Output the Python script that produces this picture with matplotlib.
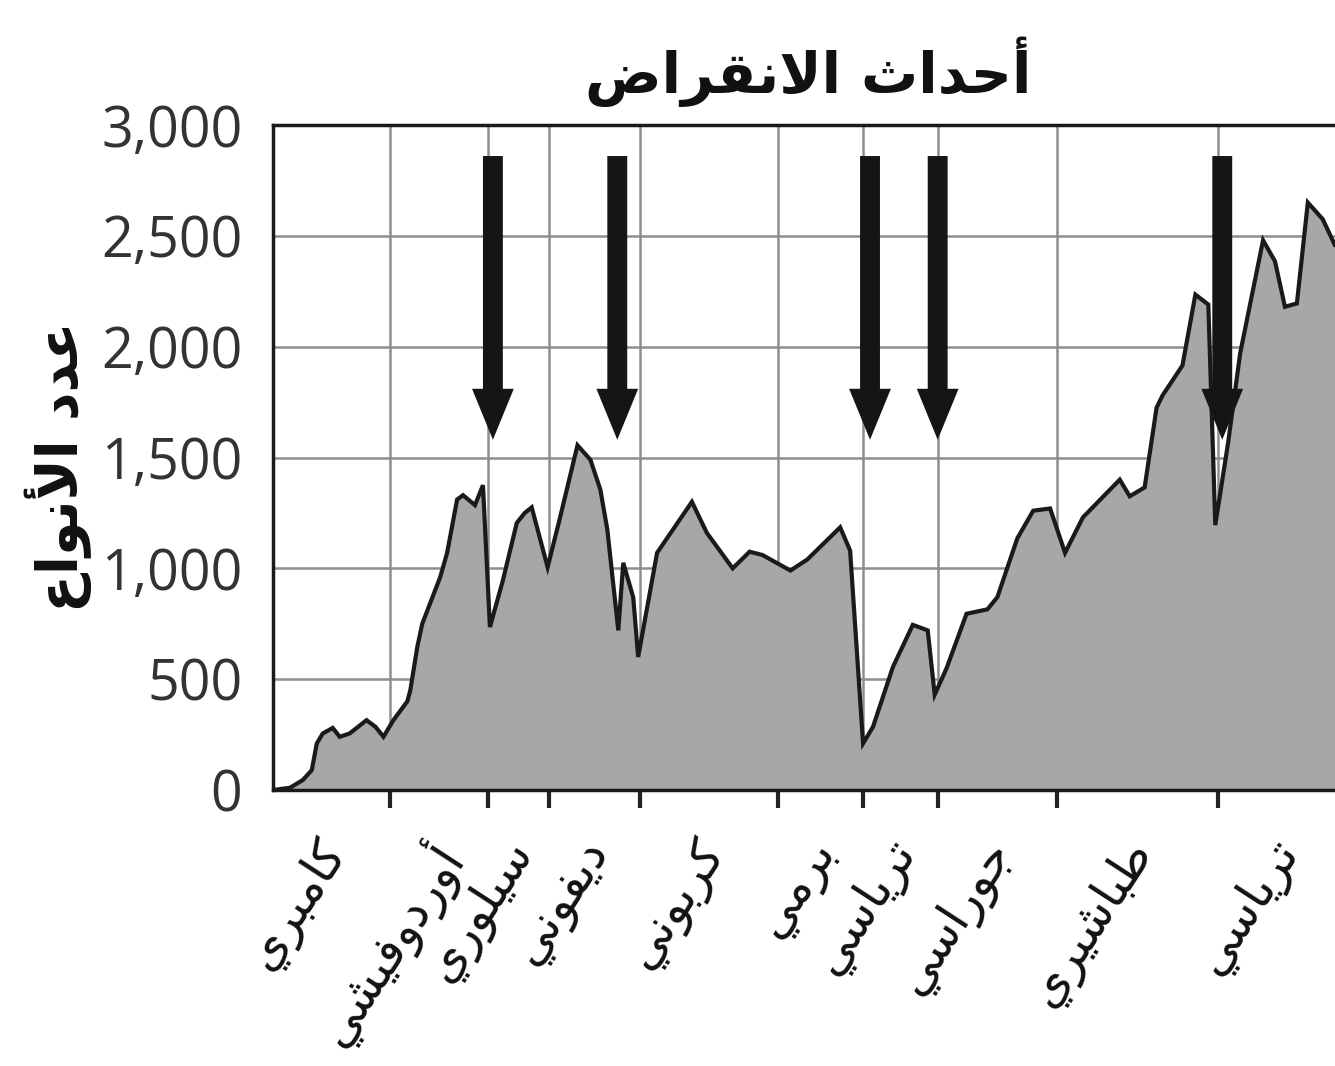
import matplotlib
matplotlib.use("Agg")
import matplotlib.pyplot as plt
import matplotlib.transforms as mtransforms
from matplotlib.ticker import FuncFormatter

# ---------------- data ----------------
ages_ma = [541, 532.5, 526, 521.5, 519, 516, 511, 507.5, 502.5, 494, 489.5, 485.5,
           480.5, 473.5, 472, 468.5, 466, 457, 453.5, 448.5, 445.5, 439.5, 435.5,
           432, 425.5, 418.5, 414.5, 411, 403, 397, 388, 381.5, 376.5, 373, 367.5,
           365, 360, 357.5, 348, 330.5, 323, 310, 301.5, 295, 281, 272.5, 256, 251,
           244.5, 239.5, 229.5, 219.5, 212, 208.5, 202.5, 192.5, 182, 177, 167, 159,
           150.5, 143, 134, 115.5, 110.5, 103, 97, 94, 84, 77.5, 71, 67.5, 61, 55,
           43.5, 37.5, 32.5, 26.5, 21, 13.5, 7.5]
species = [0, 10, 45, 90, 210, 255, 280, 240, 255, 315, 285, 240,
           315, 400, 450, 645, 750, 960, 1070, 1310, 1330, 1285, 1375,
           735, 945, 1205, 1250, 1275, 1005, 1220, 1555, 1490, 1355, 1175, 720,
           1025, 870, 600, 1070, 1300, 1160, 1000, 1075, 1060, 990, 1040, 1185, 1080,
           210, 285, 555, 745, 720, 430, 550, 795, 815, 870, 1135, 1260,
           1270, 1070, 1230, 1400, 1325, 1365, 1725, 1780, 1915, 2235, 2190, 1195,
           1570, 1970, 2480, 2385, 2180, 2195, 2650, 2575, 2460]

period_bounds = [541, 482, 433, 402.5, 356.5, 287, 244.5, 207, 147, 66, 0]
period_names = ["كامبري", "أوردوفيشي", "سيلوري", "ديفوني", "كربوني",
                "برمي", "ترياسي", "جوراسي", "طباشيري", "ترياسي"]
extinction_ma = [430.5, 368, 241, 207, 64]
arrow_top, arrow_tip = 2860, 1580

title_text = "أحداث الانقراض"
ylabel_text = "عدد الأنواع"
yticks = [0, 500, 1000, 1500, 2000, 2500, 3000]

# ---------------- simple Arabic shaping ----------------
_F = {
 'ء': ('\uFE80', None, None, None), 'آ': ('\uFE81', '\uFE82', None, None),
 'أ': ('\uFE83', '\uFE84', None, None), 'ؤ': ('\uFE85', '\uFE86', None, None),
 'إ': ('\uFE87', '\uFE88', None, None), 'ئ': ('\uFE89', '\uFE8A', '\uFE8B', '\uFE8C'),
 'ا': ('\uFE8D', '\uFE8E', None, None), 'ب': ('\uFE8F', '\uFE90', '\uFE91', '\uFE92'),
 'ة': ('\uFE93', '\uFE94', None, None), 'ت': ('\uFE95', '\uFE96', '\uFE97', '\uFE98'),
 'ث': ('\uFE99', '\uFE9A', '\uFE9B', '\uFE9C'), 'ج': ('\uFE9D', '\uFE9E', '\uFE9F', '\uFEA0'),
 'ح': ('\uFEA1', '\uFEA2', '\uFEA3', '\uFEA4'), 'خ': ('\uFEA5', '\uFEA6', '\uFEA7', '\uFEA8'),
 'د': ('\uFEA9', '\uFEAA', None, None), 'ذ': ('\uFEAB', '\uFEAC', None, None),
 'ر': ('\uFEAD', '\uFEAE', None, None), 'ز': ('\uFEAF', '\uFEB0', None, None),
 'س': ('\uFEB1', '\uFEB2', '\uFEB3', '\uFEB4'), 'ش': ('\uFEB5', '\uFEB6', '\uFEB7', '\uFEB8'),
 'ص': ('\uFEB9', '\uFEBA', '\uFEBB', '\uFEBC'), 'ض': ('\uFEBD', '\uFEBE', '\uFEBF', '\uFEC0'),
 'ط': ('\uFEC1', '\uFEC2', '\uFEC3', '\uFEC4'), 'ظ': ('\uFEC5', '\uFEC6', '\uFEC7', '\uFEC8'),
 'ع': ('\uFEC9', '\uFECA', '\uFECB', '\uFECC'), 'غ': ('\uFECD', '\uFECE', '\uFECF', '\uFED0'),
 'ف': ('\uFED1', '\uFED2', '\uFED3', '\uFED4'), 'ق': ('\uFED5', '\uFED6', '\uFED7', '\uFED8'),
 'ك': ('\uFED9', '\uFEDA', '\uFEDB', '\uFEDC'), 'ل': ('\uFEDD', '\uFEDE', '\uFEDF', '\uFEE0'),
 'م': ('\uFEE1', '\uFEE2', '\uFEE3', '\uFEE4'), 'ن': ('\uFEE5', '\uFEE6', '\uFEE7', '\uFEE8'),
 'ه': ('\uFEE9', '\uFEEA', '\uFEEB', '\uFEEC'), 'و': ('\uFEED', '\uFEEE', None, None),
 'ى': ('\uFEEF', '\uFEF0', None, None), 'ي': ('\uFEF1', '\uFEF2', '\uFEF3', '\uFEF4'),
}
_LA = {'آ': ('\uFEF5', '\uFEF6'), 'أ': ('\uFEF7', '\uFEF8'),
       'إ': ('\uFEF9', '\uFEFA'), 'ا': ('\uFEFB', '\uFEFC')}


def shape(s):
    units = []
    i = 0
    while i < len(s):
        c = s[i]
        if c == 'ل' and i + 1 < len(s) and s[i + 1] in _LA:
            iso, fin = _LA[s[i + 1]]
            units.append((iso, fin, None, None))
            i += 2
        elif c in _F:
            units.append(_F[c])
            i += 1
        else:
            units.append(c)
            i += 1
    out = []
    for k, u in enumerate(units):
        if isinstance(u, str):
            out.append(u)
            continue
        prev = units[k - 1] if k > 0 else None
        nxt = units[k + 1] if k + 1 < len(units) else None
        jp = isinstance(prev, tuple) and prev[2] is not None and u[1] is not None
        jn = u[2] is not None and isinstance(nxt, tuple)
        if jp and jn:
            f = u[3]
        elif jp:
            f = u[1]
        elif jn:
            f = u[2]
        else:
            f = u[0]
        out.append(f)
    return ''.join(reversed(out))


# ---------------- figure ----------------
W, H = 1335, 1066
fig = plt.figure(figsize=(W / 100, H / 100), dpi=100)
fig.patch.set_facecolor('white')

x0 = 273
x_end = x0 + 541 / 0.5025
ax = fig.add_axes([x0 / W, 1 - 790 / H, (x_end - x0) / W, (790 - 125) / H])

ax.set_xlim(541, 0)
ax.set_ylim(0, 3000)
ax.set_axisbelow(True)

ax.fill_between(ages_ma, species, 0, color='#a7a7a7', lw=0, zorder=2)
ax.plot(ages_ma, species, color='#1a1a1a', lw=3, zorder=3, solid_joinstyle='miter')

for xm in extinction_ma:
    ax.arrow(xm, arrow_top, 0, arrow_tip - arrow_top, width=10, head_width=21,
             head_length=230, length_includes_head=True, fc='#151515', ec='none',
             zorder=5)

# grid
ax.set_xticks(period_bounds[1:-1])
ax.set_yticks(yticks)
ax.grid(True, color='#8e8e8e', lw=1.8)
ax.set_xticklabels([])
ax.tick_params(axis='x', direction='out', length=13, width=3, color='#222222')
ax.tick_params(axis='y', length=0, pad=22, labelsize=40, labelcolor='#333333')
ax.yaxis.set_major_formatter(FuncFormatter(lambda v, p: f"{int(v):,}"))
for lab in ax.get_yticklabels():
    lab.set_fontfamily('Open Sans')

for s in ['left', 'top', 'bottom']:
    ax.spines[s].set_linewidth(2.5)
    ax.spines[s].set_color('#1a1a1a')
ax.spines['right'].set_visible(False)

# period labels
trans = ax.get_xaxis_transform()
off = mtransforms.ScaledTranslation(-11 / 72, -29 / 72, fig.dpi_scale_trans)
for a, b, name in zip(period_bounds[:-1], period_bounds[1:], period_names):
    mid = (a + b) / 2
    ax.text(mid, 0, shape(name), transform=trans + off, rotation=57,
            rotation_mode='anchor', ha='right', va='top', fontsize=35,
            family='DejaVu Sans', color='#111111')

fig.text(808 / W, 1 - 72 / H, shape(title_text), ha='center', va='center',
         fontsize=41, fontweight='bold', family='DejaVu Sans', color='#111111')
fig.text(58 / W, 1 - 467 / H, shape(ylabel_text), ha='center', va='center',
         rotation=90, fontsize=40, fontweight='bold', family='DejaVu Sans',
         color='#111111')

fig.savefig('out.png', dpi=100)
